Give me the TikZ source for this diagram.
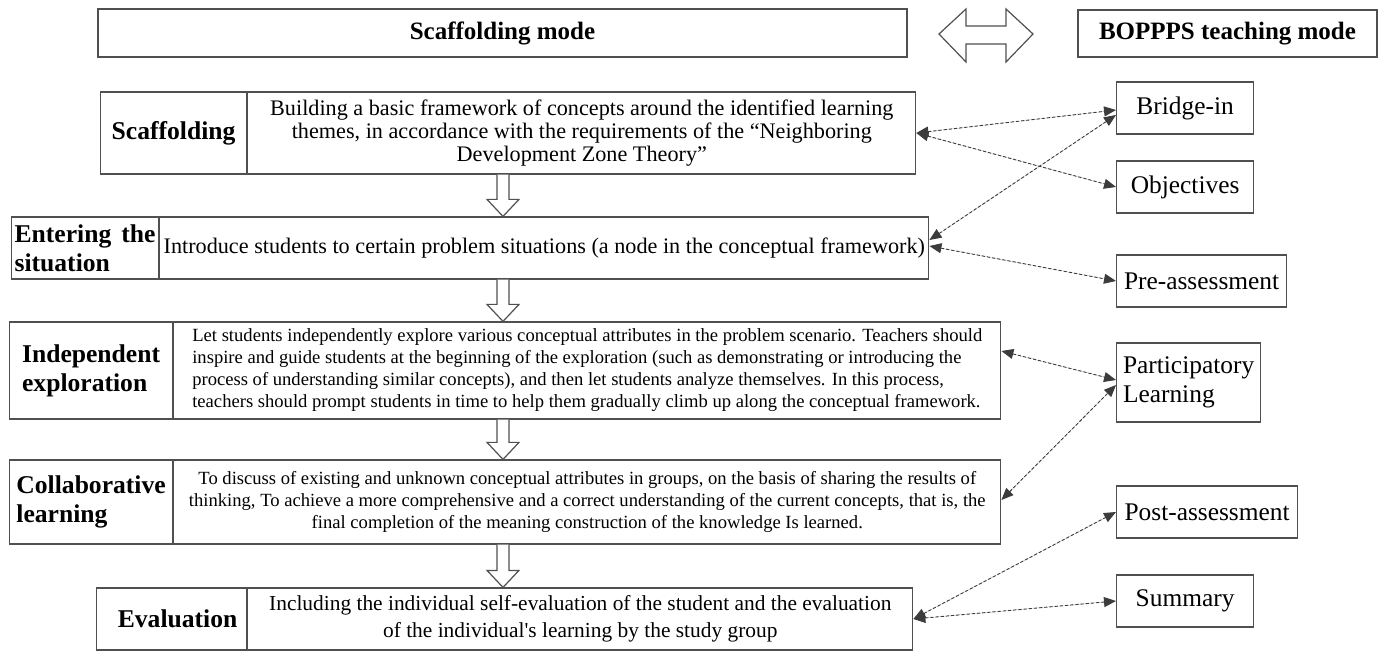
\documentclass[tikz,border=0pt]{standalone}
\usepackage{fontspec}
\setmainfont{Liberation Serif}
\usetikzlibrary{arrows.meta,calc,positioning}
\definecolor{Edge}{HTML}{505050}
\definecolor{LinkGray}{HTML}{3C3C3C}
\tikzset{
  modebox/.style={
    draw=Edge, line width=0.6pt, inner xsep=1pt,
    font=\bfseries\fontsize{12.5}{14}\selectfont
  },
  stage/.style={
    draw=Edge, line width=0.6pt, inner xsep=1pt, anchor=west,
    font=\bfseries\fontsize{12.8}{14.6}\selectfont
  },
  detail/.style={
    draw=Edge, line width=0.6pt, inner xsep=1pt,
    font=\fontsize{11.1}{11.6}\selectfont
  },
  finedetail/.style={detail, font=\fontsize{9.3}{11}\selectfont},
  phase/.style={
    draw=Edge, line width=0.6pt, inner xsep=2pt, anchor=west,
    minimum height=26pt, font=\fontsize{12.7}{14.6}\selectfont
  },
  link/.style={
    {Triangle[length=6pt,width=5pt]}-{Triangle[length=6pt,width=5pt]},
    draw=LinkGray, fill=LinkGray, line width=0.45pt, dash pattern=on 1.6pt off 1pt
  },
  hollow/.style={draw=Edge, fill=white, line width=0.6pt}
}

\begin{document}
\begin{tikzpicture}[x=0.5pt,y=-0.5pt]
  \useasboundingbox (0,0) rectangle (1383,652);

  % headers
  \node[modebox, minimum width=404.5pt, minimum height=24pt] (scaffmode) at (502.5,33) {\raisebox{-3.5pt}{Scaffolding mode}};
  \node[modebox, minimum width=149.5pt, minimum height=23.5pt] (bopppsmode) at (1227.5,33.5) {\raisebox{-1pt}{BOPPPS teaching mode}};
  \draw[hollow] (939,34) -- (966,9) -- (966,26) -- (1006,26) -- (1006,9) -- (1033,34)
    -- (1006,62) -- (1006,44) -- (966,44) -- (966,62) -- cycle;

  % scaffolding stages
  \node[stage, minimum width=73pt, minimum height=41pt, align=right] (scafL) at (100,133) {Scaffolding};
  \node[detail, right=0pt of scafL, minimum width=334pt, minimum height=41pt, align=center] (scafT)
    {Building a basic framework of concepts around the identified learning\\
     themes, in accordance with the requirements of the “Neighboring\\
     Development Zone Theory”};

  \node[stage, minimum width=73.5pt, minimum height=31pt, align=left] (enterL) at (11,248) {\makebox[70.5pt][s]{Entering the}\\situation};
  \node[detail, right=0pt of enterL, minimum width=384.5pt, minimum height=31pt] (enterT)
    {Introduce students to certain problem situations (a node in the conceptual framework)};

  \node[stage, minimum width=81.5pt, minimum height=48.5pt, align=left] (indepL) at (9,370.5) {Independent\\exploration};
  \node[finedetail, right=0pt of indepL, minimum width=413.5pt, minimum height=48.5pt, align=left] (indepT)
    {Let students independently explore various conceptual attributes in the problem scenario. Teachers should\\
     inspire and guide students at the beginning of the exploration (such as demonstrating or introducing the\\
     process of understanding similar concepts), and then let students analyze themselves. In this process,\\
     teachers should prompt students in time to help them gradually climb up along the conceptual framework.};

  \node[stage, minimum width=81.5pt, minimum height=42pt, align=left] (collabL) at (9,502) {Collaborative\\learning};
  \node[finedetail, right=0pt of collabL, minimum width=413.5pt, minimum height=42pt, align=center] (collabT)
    {To discuss of existing and unknown conceptual attributes in groups, on the basis of sharing the results of\\
     thinking, To achieve a more comprehensive and a correct understanding of the current concepts, that is, the\\
     final completion of the meaning construction of the knowledge Is learned.};

  \node[stage, minimum width=75pt, minimum height=31pt] (evalL) at (96,619) {\hspace{6pt}Evaluation};
  \node[detail, right=0pt of evalL, minimum width=332.5pt, minimum height=31pt, align=center,
    font=\fontsize{10.7}{13.3}\selectfont] (evalT)
    {Including the individual self-evaluation of the student and the evaluation\\
     of the individual\textquotesingle s learning by the study group};

  % BOPPPS phases
  \node[phase, minimum width=68.5pt] (bridge) at (1116,108) {Bridge-in};
  \node[phase, minimum width=68.5pt] (objectives) at (1116,187) {Objectives};
  \node[phase, minimum width=85pt] (preassess) at (1116,281) {Pre-assessment};
  \node[phase, minimum width=72pt, minimum height=39.5pt, align=left] (particip) at (1116,382.5) {Participatory\\Learning};
  \node[phase, minimum width=90.5pt] (postassess) at (1116,512) {Post-assessment};
  \node[phase, minimum width=68.5pt] (summary) at (1116,601) {Summary};

  % stage flow
  \coordinate (axis) at (503,0);
  \foreach \a/\b in {scafT/enterT, enterT/indepT, indepT/collabT, collabT/evalT}
    \draw[hollow] let \p1=(\a.south -| axis), \p2=(\b.north -| axis) in
      (\x1-3pt,\y1) -- (\x1-3pt,\y2+8.5pt) -- (\x1-8pt,\y2+8.5pt) -- (\x1,\y2)
      -- (\x1+8pt,\y2+8.5pt) -- (\x1+3pt,\y2+8.5pt) -- (\x1+3pt,\y1);

  % correspondences
  \draw[link] (scafT.east) -- ([yshift=-1pt]bridge.west);
  \draw[link] (scafT.east) -- (objectives.west);
  \draw[link] ([yshift=4pt]enterT.east) -- ([yshift=-3.5pt]bridge.west);
  \draw[link] ([yshift=1pt]enterT.east) -- (preassess.west);
  \draw[link] ([yshift=9.75pt]indepT.east) -- ([yshift=1.25pt]particip.west);
  \draw[link] ([yshift=1pt]collabT.east) -- ([yshift=-1.25pt]particip.west);
  \draw[link] (evalT.east) -- (postassess.west);
  \draw[link] (evalT.east) -- (summary.west);
\end{tikzpicture}
\end{document}
